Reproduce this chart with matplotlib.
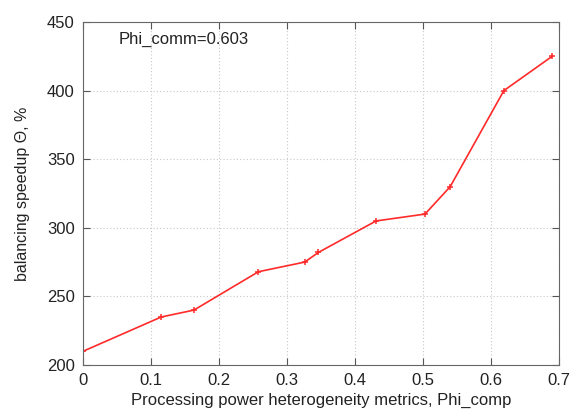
import matplotlib
matplotlib.use('Agg')
import matplotlib.pyplot as plt

plt.rcParams['font.family'] = ['Liberation Sans', 'DejaVu Sans']

# data
phi_comp = [0.0, 0.115, 0.163, 0.258, 0.326, 0.346, 0.431, 0.503, 0.54, 0.619, 0.69]
speedup = [210, 235, 240, 268, 275, 282, 305, 310, 330, 400, 425]
x_ticks = [0, 0.1, 0.2, 0.3, 0.4, 0.5, 0.6, 0.7]
x_labels = ['0', '0.1', '0.2', '0.3', '0.4', '0.5', '0.6', '0.7']
y_ticks = [200, 250, 300, 350, 400, 450]

fig = plt.figure(figsize=(5.73, 4.15), dpi=100)
ax = fig.add_axes([0.145, 0.1205, 0.8305, 0.8265])

ax.plot(phi_comp, speedup, color='#ff2a2a', linewidth=1.2, marker='+',
        markersize=4, markeredgewidth=1.1)

ax.set_xlim(0, 0.7)
ax.set_ylim(200, 450)
ax.set_xticks(x_ticks)
ax.set_xticklabels(x_labels)
ax.set_yticks(y_ticks)
ax.tick_params(direction='in', length=5, labelsize=12, color='#555555', labelcolor='#222222', pad=6)
ax.tick_params(top=True, right=True)
ax.grid(True, linestyle=(0, (1, 2)), color='#c8c8c8', linewidth=0.8)
for s in ax.spines.values():
    s.set_color('#666666')

ax.set_xlabel('Processing power heterogeneity metrics, Phi_comp', fontsize=12, labelpad=3, color='#222222')
ax.set_ylabel('balancing speedup \u0398, %', fontsize=11.5, labelpad=12, color='#222222')
ax.text(0.053, 437, 'Phi_comm=0.603', fontsize=12, va='center', color='#222222')

plt.savefig('out.png', dpi=100)
